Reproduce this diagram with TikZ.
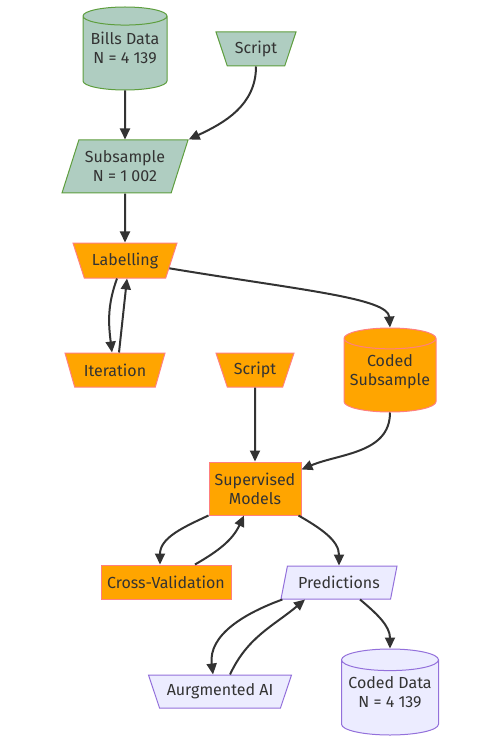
\documentclass[tikz,border=0pt]{standalone}
\usepackage{fontspec}
\setmainfont{Fira Sans}
\usetikzlibrary{
    shapes.geometric,
    arrows.meta,
    positioning,
    calc
}
\definecolor{greenfill}{HTML}{AFCDC1}
\definecolor{greenline}{HTML}{5E9E3E}
\definecolor{orangefill}{HTML}{FFA500}
\definecolor{orangeline}{HTML}{FF7F7F}
\definecolor{purplefill}{HTML}{ECECFF}
\definecolor{purpleline}{HTML}{9370DB}
\definecolor{inkgray}{HTML}{333333}
\tikzset{
    database/.style = {
        cylinder,
        shape border rotate=90,
        aspect=0.24,
        draw,
        line width=1pt,
        anchor=shape center,
        text depth=15pt,
        align=center
    },
    manual/.style = {
        trapezium,
        shape border rotate=180,
        trapezium angle=63.4,
        trapezium stretches body,
        draw,
        line width=1pt,
        inner xsep=0pt,
        minimum height=34pt,
        align=center
    },
    inout/.style = {
        trapezium,
        trapezium stretches body,
        draw,
        line width=1pt,
        inner xsep=0pt,
        align=center
    },
    process/.style = {
        rectangle,
        draw,
        line width=1pt,
        align=center
    },
    greenbox/.style = {fill=greenfill, draw=greenline},
    orangebox/.style = {fill=orangefill, draw=orangeline},
    purplebox/.style = {fill=purplefill, draw=purpleline},
    arrow/.style = {
        -{Triangle[length=11pt,width=10pt]},
        line width=2pt,
        draw=inkgray
    }
}

\begin{document}
\begin{tikzpicture}[x=1pt, y=1pt, text=inkgray,
    font=\fontsize{16}{19}\selectfont]
\useasboundingbox (0,0) rectangle (500,-743);
% inputs
\node[database, greenbox, minimum width=84pt, minimum height=83pt]
    (bills) at (125,-48.5) {Bills Data\\N = 4 139};
\node[manual, greenbox, minimum width=80pt] (scriptIn) at (256,-49) {Script};
\node[inout, greenbox, trapezium left angle=66, trapezium right angle=114,
    minimum width=126pt, minimum height=53pt]
    (subsample) at (125,-166.5) {Subsample\\N = 1 002};
% labelling loop
\node[manual, orangebox, minimum width=104pt, minimum height=35pt]
    (labelling) at (125,-260.5) {Labelling};
\node[manual, orangebox, minimum width=100pt] (iteration) at (115,-370) {Iteration};
\node[manual, orangebox, minimum width=78pt] (scriptFit) at (255,-370) {Script};
\node[database, orangebox, minimum width=92pt, minimum height=84pt]
    (codedSub) at (390,-370) {Coded\\Subsample};
% models
\node[process, orangebox, minimum width=92pt, minimum height=53pt]
    (supervised) at (255,-488.5) {Supervised\\Models};
\node[process, orangebox, minimum width=130pt, minimum height=34pt]
    (crossVal) at (166,-582) {Cross-Validation};
\node[inout, purplebox, trapezium left angle=71.6, trapezium right angle=108.4,
    minimum width=116pt, minimum height=33pt]
    (predictions) at (339,-582.5) {Predictions};
\node[manual, purplebox, minimum width=143pt, minimum height=33pt]
    (augmented) at (220,-691.5) {Aurgmented AI};
\node[database, purplebox, minimum width=97pt, minimum height=86pt]
    (codedData) at (390,-692) {Coded Data\\N = 4 139};

\draw[arrow] (bills.south) -- (subsample.north);
\draw[arrow] (scriptIn.south) to[out=-90, in=25] (subsample.top right corner);
\draw[arrow] (subsample) -- (labelling);
\draw[arrow] ($(labelling.south)+(-8,0)$) to[out=-110, in=97] ($(iteration.north)+(-3,0)$);
\draw[arrow] ($(iteration.north)+(4,0)$) -- ($(labelling.south)+(2,0)$);
\draw[arrow] (labelling.-10) .. controls (300,-290) and (388,-298) .. (codedSub.north);
\draw[arrow] (scriptFit) -- (supervised);
\draw[arrow] (codedSub.south) to[out=-90, in=23] ($(supervised.north east)+(0,-8)$);
\draw[arrow] (supervised.south west) to[out=205, in=90] ($(crossVal.north)+(-6,0)$);
\draw[arrow] ($(crossVal.north)+(29,0)$) to[out=30, in=-115] ($(supervised.south)+(-11,0)$);
\draw[arrow] ($(supervised.south east)+(-3,0)$) to[out=-30, in=90] (predictions.north);
\draw[arrow] ($(predictions.bottom left corner)+(2,0)$) to[out=200, in=97] ($(augmented.north)+(-7,0)$);
\draw[arrow] ($(augmented.north)+(10,0)$) to[out=65, in=-140] ($(predictions.south)+(-34,0)$);
\draw[arrow] ($(predictions.south)+(21,0)$) to[out=-40, in=90] (codedData.north);
\end{tikzpicture}
\end{document}
